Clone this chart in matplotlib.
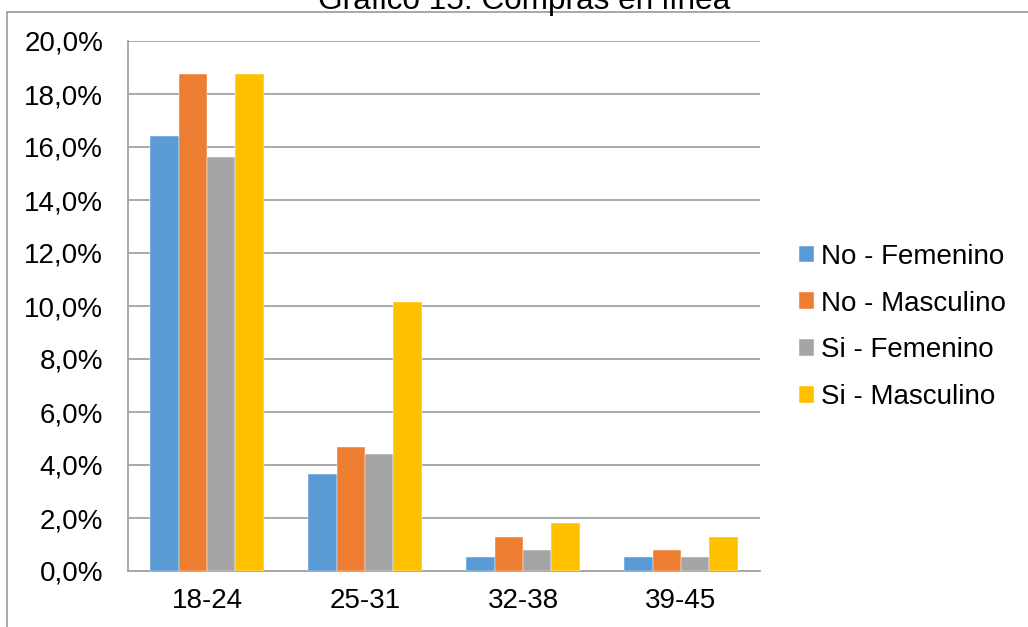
import matplotlib
matplotlib.use("Agg")
import matplotlib.pyplot as plt
import numpy as np
from matplotlib.patches import Rectangle
from matplotlib.ticker import FuncFormatter, MultipleLocator

plt.rcParams["font.family"] = ["Liberation Sans", "DejaVu Sans"]

# values in percent
age_groups = ["18-24", "25-31", "32-38", "39-45"]
series_names = ["No - Femenino", "No - Masculino", "Si - Femenino", "Si - Masculino"]
no_femenino = [16.4, 3.65, 0.52, 0.52]
no_masculino = [18.75, 4.69, 1.30, 0.78]
si_femenino = [15.62, 4.43, 0.78, 0.52]
si_masculino = [18.75, 10.16, 1.82, 1.30]
colors = ["#5B9BD5", "#ED7D31", "#A5A5A5", "#FFC000"]

W, H = 1028, 627
fig = plt.figure(figsize=(W / 100, H / 100), dpi=100)
ax = fig.add_axes([128 / W, 1 - 571 / H, (760 - 128) / W, (571 - 41) / H])

x = np.arange(len(age_groups))
bar_w = 0.18
for i, (vals, c, name) in enumerate(
    zip([no_femenino, no_masculino, si_femenino, si_masculino], colors, series_names)
):
    ax.bar(x + (i - 1.5) * bar_w, vals, width=bar_w, color=c, label=name,
           edgecolor="white", linewidth=0.3, zorder=3)

ax.set_xlim(-0.5, len(age_groups) - 0.5)
ax.set_ylim(0, 20)
ax.yaxis.set_major_locator(MultipleLocator(2))
ax.yaxis.set_major_formatter(FuncFormatter(lambda v, _: f"{v:.1f}%".replace(".", ",")))
ax.set_xticks(x)
ax.set_xticklabels(age_groups)
ax.tick_params(axis="both", length=0, labelsize=20)
ax.tick_params(axis="y", pad=18)
ax.tick_params(axis="x", pad=12)

grid_c = "#a3a3a3"
ax.grid(axis="y", color=grid_c, linewidth=1.3, zorder=0)
for side in ["top", "right"]:
    ax.spines[side].set_visible(False)
for side in ["left", "bottom"]:
    ax.spines[side].set_color(grid_c)
    ax.spines[side].set_linewidth(1.3)

# legend on the right
fig.legend(loc="center left", bbox_to_anchor=(799 / W, 1 - 327 / H), frameon=False,
           fontsize=20, borderpad=0, borderaxespad=0, handlelength=0.55,
           handleheight=0.55, handletextpad=0.25, labelspacing=0.75)

# chart border (cut off at right and bottom) and cropped title
fig.patches.append(Rectangle((7 / W, -0.1), 1.2, 1.1 - 12 / H, transform=fig.transFigure,
                             fill=False, edgecolor="#9a9a9a", linewidth=1.2))
fig.text(524 / W, 1 - 9 / H, "Gráfico 15: Compras en línea", ha="center", va="baseline",
         fontsize=22.7)

fig.savefig("out.png", dpi=100)
